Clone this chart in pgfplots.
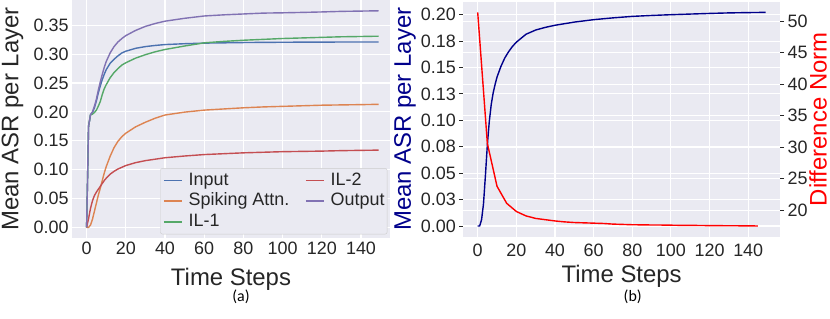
\documentclass[border=0pt]{standalone}
\usepackage{pgfplots}
\pgfplotsset{compat=1.18}
\usepackage{fontspec}
\setmainfont{Liberation Sans}
\newfontfamily\capfont{Carlito}
\definecolor{bg}{HTML}{EAEAF2}
\definecolor{tickcol}{HTML}{262626}
\definecolor{legedge}{HTML}{CCCCCC}
\definecolor{c0}{HTML}{4C72B0}
\definecolor{c1}{HTML}{DD8452}
\definecolor{c2}{HTML}{55A868}
\definecolor{c3}{HTML}{C44E52}
\definecolor{c4}{HTML}{8172B3}
\definecolor{navyb}{HTML}{00008B}
\newcommand\tickfont{\fontsize{18}{21}\selectfont}
\newcommand\labfont{\fontsize{24}{28}\selectfont}
\newcommand\legfont{\fontsize{18}{20}\selectfont}
\pgfplotsset{
  sbstyle/.style={
    scale only axis,
    anchor=south west,
    axis background/.style={fill=bg},
    axis line style={draw=none},
    major grid style={white, line width=1.1bp},
    tick label style={font=\tickfont, text=tickcol},
    /pgf/number format/assume math mode=true,
    label style={font=\labfont, text=tickcol},
  }
}
\begin{document}
\begin{tikzpicture}[x=1bp,y=1bp]
\useasboundingbox (0,0) rectangle (830,318);
% ---------------- panel (a)
\begin{axis}[sbstyle,
  at={(72bp,80bp)}, width=318bp, height=238bp,
  axis lines*=left,
  xmin=-7.45, xmax=154.8, ymin=-0.0185, ymax=0.3937,
  xtick={0,20,...,140},
  ytick={0,0.05,0.1,0.15,0.2,0.25,0.3,0.35},
  yticklabel style={/pgf/number format/.cd, fixed, fixed zerofill, precision=2},
  major tick length=0pt,
  grid=major,
  xlabel={Time Steps}, ylabel={Mean ASR per Layer},
  xlabel style={at={(axis description cs:0.5,-0.172)}, anchor=center},
  ylabel style={at={(axis description cs:-0.187,0.5)}, anchor=center},
  legend columns=2,
  legend cell align=left,
  legend style={at={(axis description cs:0.9915,0.0155)}, anchor=south east,
    fill=bg, draw=legedge, rounded corners=2bp, font=\legfont, text=tickcol,
    inner xsep=2.6bp, inner ysep=2bp, row sep=0pt,
    nodes={inner xsep=0bp, inner ysep=0bp, text height=14.7bp, text depth=5.9bp},
    /tikz/every even column/.append style={column sep=15.7bp},
    /tikz/every odd column/.append style={column sep=6bp}},
  legend image code/.code={\draw[#1, line width=1.6bp] (0bp,0bp) -- (18bp,0bp);},
  every axis plot/.append style={line width=1.4bp},
]
\addlegendimage{c0}\addlegendentry{Input}
\addlegendimage{c3}\addlegendentry{IL-2}
\addlegendimage{c1}\addlegendentry{Spiking Attn.}
\addlegendimage{c4}\addlegendentry{Output}
\addlegendimage{c2}\addlegendentry{IL-1}
% Input
\addplot[c0, forget plot] coordinates {
(0,0)(1,0.175)(2,0.195)(3,0.199)(4,0.207)(5,0.219)(6,0.233)(7,0.245)(8,0.256)(9,0.265)(10,0.273)
(12,0.284)(14,0.291)(16,0.297)(18,0.302)(20,0.305)(25,0.310)(30,0.313)(35,0.315)(40,0.3165)
(50,0.318)(60,0.319)(70,0.3195)(80,0.320)(90,0.3203)(100,0.3205)(110,0.3207)(120,0.3208)(130,0.3209)(140,0.321)(149,0.321)};
% Spiking Attn.
\addplot[c1, forget plot] coordinates {
(0,0)(1,0)(2,0.004)(3,0.014)(4,0.028)(5,0.042)(6,0.056)(7,0.068)(8,0.081)(9,0.094)(10,0.105)
(12,0.123)(14,0.138)(16,0.149)(18,0.157)(20,0.163)(25,0.174)(30,0.182)(35,0.189)(40,0.1945)
(50,0.1995)(60,0.203)(70,0.205)(80,0.207)(90,0.2085)(100,0.2095)(110,0.2105)(120,0.2115)(130,0.212)(140,0.2125)(149,0.213)};
% IL-1
\addplot[c2, forget plot] coordinates {
(0,0)(1,0.175)(2,0.195)(3,0.196)(4,0.199)(5,0.203)(6,0.210)(7,0.218)(8,0.230)(9,0.240)(10,0.247)
(12,0.259)(14,0.268)(16,0.275)(18,0.281)(20,0.285)(25,0.293)(30,0.299)(35,0.304)(40,0.308)
(50,0.314)(60,0.3195)(70,0.322)(80,0.324)(90,0.3255)(100,0.327)(110,0.328)(120,0.329)(130,0.330)(140,0.3305)(149,0.331)};
% IL-2
\addplot[c3, forget plot] coordinates {
(0,0)(1,0.015)(2,0.033)(3,0.046)(4,0.055)(5,0.061)(6,0.066)(7,0.071)(8,0.076)(9,0.081)(10,0.085)
(12,0.092)(14,0.097)(16,0.101)(18,0.104)(20,0.107)(25,0.112)(30,0.1155)(35,0.118)(40,0.1205)
(50,0.1235)(60,0.126)(70,0.1275)(80,0.129)(90,0.130)(100,0.131)(110,0.1315)(120,0.132)(130,0.1328)(140,0.1333)(149,0.1337)};
% Output
\addplot[c4, forget plot] coordinates {
(0,0)(1,0.175)(2,0.195)(3,0.200)(4,0.210)(5,0.222)(6,0.238)(7,0.252)(8,0.265)(9,0.277)(10,0.287)
(12,0.302)(14,0.313)(16,0.321)(18,0.327)(20,0.332)(25,0.341)(30,0.348)(35,0.353)(40,0.357)
(50,0.362)(60,0.366)(70,0.368)(80,0.3695)(90,0.371)(100,0.3715)(110,0.3722)(120,0.373)(130,0.374)(140,0.3745)(149,0.375)};
\end{axis}
% ---------------- panel (b), left axis
\begin{axis}[sbstyle,
  at={(463.3bp,81.3bp)}, width=316.7bp, height=235bp,
  axis lines*=left,
  xmin=-7.45, xmax=156.45, ymin=-0.0101, ymax=0.2123,
  xtick={0,20,...,140},
  ytick={0,0.025,0.05,0.075,0.1,0.125,0.15,0.175,0.2},
  yticklabels={0.00,0.03,0.05,0.08,0.10,0.13,0.15,0.18,0.20},
  extra y ticks={0.014943,0.044755,0.074568,0.10438,0.134193,0.164005,0.193818},
  extra y tick labels={},
  extra y tick style={major tick length=0pt, grid=major},
  grid=major,
  tick align=outside, major tick length=4bp,
  xtick style={draw=none},
  ytick style={draw=tickcol, line width=0.9bp},
  xlabel={Time Steps}, ylabel={Mean ASR per Layer},
  xlabel style={at={(axis description cs:0.5,-0.169)}, anchor=center},
  ylabel style={at={(axis description cs:-0.184,0.5)}, anchor=center, text=navyb},
]
\addplot[navyb, line width=1.4bp] coordinates {
(0,0)(1,0)(2,0.006)(3,0.021)(4,0.048)(5,0.077)(6,0.099)(7,0.115)(8,0.126)(9,0.134)(10,0.141)
(12,0.151)(14,0.159)(16,0.165)(18,0.170)(20,0.174)(25,0.1815)(30,0.1855)(35,0.188)(40,0.190)
(50,0.193)(60,0.1953)(70,0.197)(80,0.1984)(90,0.1993)(100,0.2)(110,0.2006)(120,0.2012)(130,0.2017)(140,0.202)(149,0.2022)};
\end{axis}
% ---------------- panel (b), right axis
\begin{axis}[sbstyle,
  at={(463.3bp,81.3bp)}, width=316.7bp, height=235bp,
  axis background/.style={},
  axis x line=none, axis y line*=right,
  xmin=-7.45, xmax=156.45, ymin=15.8, ymax=53.1,
  ytick={20,25,...,50},
  tick align=outside, major tick length=4bp,
  ytick style={draw=tickcol, line width=0.9bp},
  ylabel={Difference Norm},
  ylabel style={at={(axis description cs:1.12,0.5)}, anchor=center, text=red},
]
\addplot[red, line width=1.4bp] coordinates {
(0,51.4)(5,30.6)(10,23.8)(15,21.1)(20,19.8)(25,19.1)(30,18.7)(35,18.5)(40,18.3)(45,18.15)
(50,18.05)(55,18.0)(60,17.95)(65,17.9)(70,17.8)(75,17.75)(80,17.7)(85,17.68)(90,17.66)(95,17.65)
(100,17.63)(105,17.6)(110,17.6)(115,17.58)(120,17.56)(125,17.55)(130,17.54)(135,17.53)(140,17.52)(145,17.5)};
\end{axis}
\node[font=\capfont\fontsize{16}{18}\selectfont, anchor=center] at (241,21) {(a)};
\node[font=\capfont\fontsize{16}{18}\selectfont, anchor=center] at (632.7,21) {(b)};
\end{tikzpicture}
\end{document}
